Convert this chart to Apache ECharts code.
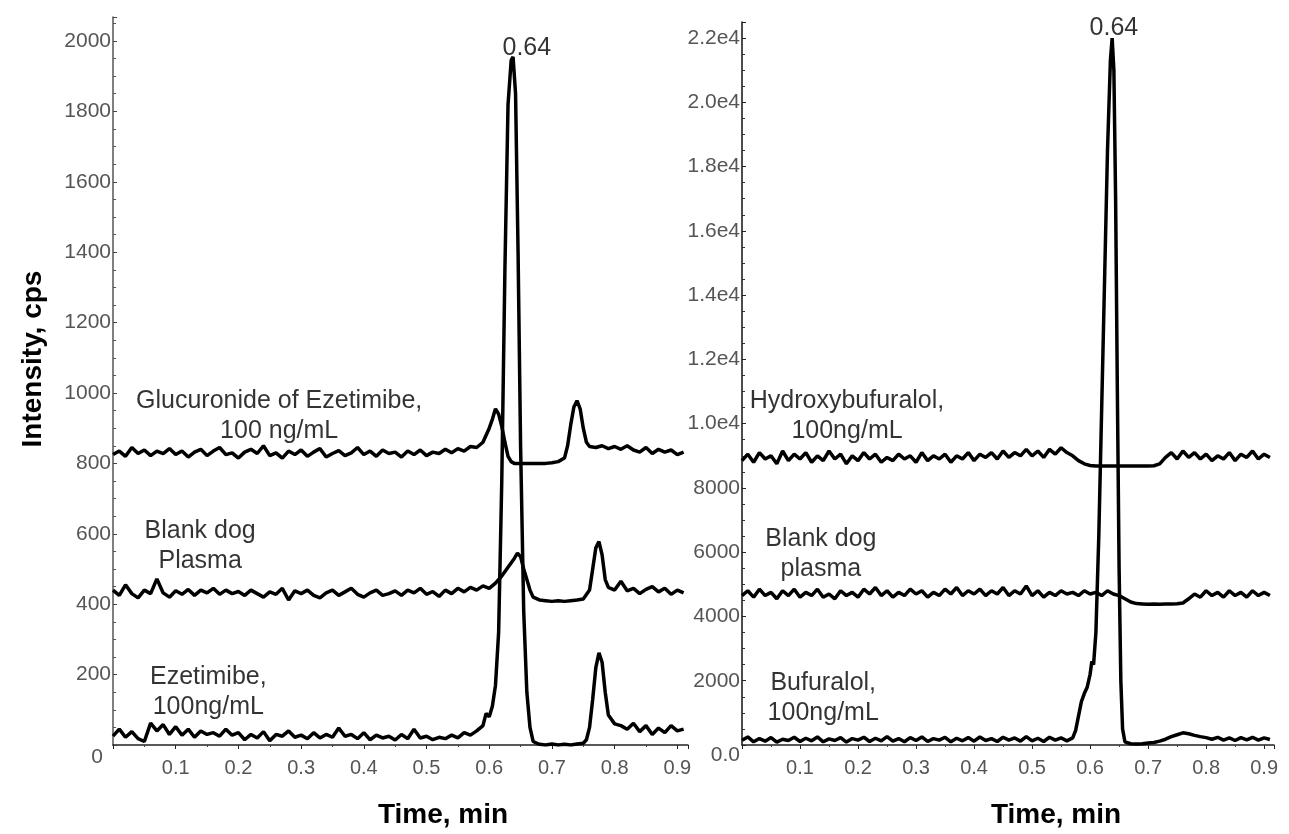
<!DOCTYPE html>
<html>
<head>
<meta charset="utf-8">
<title>Chromatograms</title>
<script src="https://cdn.jsdelivr.net/npm/echarts@6/dist/echarts.min.js"></script>
<style>
  html, body { margin: 0; padding: 0; background: #fff; }
  #chart { width: 1289px; height: 834px; }
</style>
</head>
<body>
<div id="chart"></div>
<script>
// left panel traces: [time (min), intensity (cps)]
var glucuronide = [
  [0.00,825],[0.01,835],[0.02,820],[0.03,845],[0.04,828],[0.05,838],[0.06,822],[0.07,835],[0.08,828],[0.09,842],
  [0.10,825],[0.11,835],[0.12,818],[0.13,832],[0.14,840],[0.15,822],[0.16,835],[0.17,845],[0.18,825],[0.19,830],
  [0.20,815],[0.21,832],[0.22,840],[0.23,828],[0.24,850],[0.25,822],[0.26,830],[0.27,815],[0.28,835],[0.29,825],
  [0.30,838],[0.31,820],[0.32,832],[0.33,842],[0.34,818],[0.35,828],[0.36,836],[0.37,822],[0.38,830],[0.39,845],
  [0.40,825],[0.41,835],[0.42,820],[0.43,838],[0.44,828],[0.45,832],[0.46,818],[0.47,835],[0.48,825],[0.49,838],
  [0.50,822],[0.51,832],[0.52,828],[0.53,840],[0.54,830],[0.55,842],[0.56,835],[0.57,848],[0.58,845],[0.59,860],
  [0.60,900],[0.605,925],[0.61,955],[0.615,940],[0.62,905],[0.625,860],[0.63,820],[0.635,805],[0.64,800],[0.65,800],
  [0.66,800],[0.67,800],[0.68,800],[0.69,800],[0.70,802],[0.71,805],[0.72,815],[0.725,850],[0.73,910],[0.735,960],
  [0.74,978],[0.745,955],[0.75,900],[0.755,860],[0.76,848],[0.77,845],[0.78,850],[0.79,842],[0.80,848],[0.81,840],
  [0.82,850],[0.83,838],[0.84,832],[0.85,845],[0.86,828],[0.87,840],[0.88,832],[0.89,838],[0.90,825],[0.91,832]
];
var blankLeft = [
  [0.00,440],[0.01,425],[0.02,455],[0.03,430],[0.04,418],[0.05,440],[0.06,430],[0.07,472],[0.08,432],[0.09,420],
  [0.10,438],[0.11,428],[0.12,442],[0.13,425],[0.14,440],[0.15,432],[0.16,445],[0.17,428],[0.18,440],[0.19,430],
  [0.20,436],[0.21,425],[0.22,440],[0.23,430],[0.24,420],[0.25,435],[0.26,428],[0.27,445],[0.28,412],[0.29,438],
  [0.30,430],[0.31,440],[0.32,425],[0.33,418],[0.34,432],[0.35,440],[0.36,425],[0.37,435],[0.38,445],[0.39,428],
  [0.40,420],[0.41,432],[0.42,440],[0.43,425],[0.44,430],[0.45,438],[0.46,425],[0.47,440],[0.48,432],[0.49,445],
  [0.50,428],[0.51,436],[0.52,422],[0.53,440],[0.54,430],[0.55,445],[0.56,435],[0.57,448],[0.58,440],[0.59,452],
  [0.60,445],[0.61,460],[0.62,480],[0.63,505],[0.64,530],[0.645,545],[0.65,535],[0.655,500],[0.66,470],[0.665,440],
  [0.67,420],[0.68,412],[0.69,410],[0.70,408],[0.71,410],[0.72,408],[0.73,410],[0.74,412],[0.75,415],[0.76,440],
  [0.765,500],[0.77,560],[0.775,578],[0.78,540],[0.785,470],[0.79,448],[0.80,440],[0.81,465],[0.82,438],[0.83,445],
  [0.84,430],[0.85,442],[0.86,450],[0.87,435],[0.88,445],[0.89,428],[0.90,440],[0.91,432]
];
var ezetimibe = [
  [0.00,25],[0.01,45],[0.02,22],[0.03,38],[0.04,18],[0.05,10],[0.06,62],[0.07,40],[0.08,58],[0.09,30],
  [0.10,52],[0.11,28],[0.12,45],[0.13,22],[0.14,40],[0.15,30],[0.16,35],[0.17,25],[0.18,45],[0.19,28],
  [0.20,35],[0.21,15],[0.22,30],[0.23,20],[0.24,38],[0.25,12],[0.26,30],[0.27,25],[0.28,40],[0.29,22],
  [0.30,28],[0.31,18],[0.32,35],[0.33,20],[0.34,30],[0.35,22],[0.36,48],[0.37,25],[0.38,30],[0.39,18],
  [0.40,35],[0.41,15],[0.42,28],[0.43,20],[0.44,25],[0.45,14],[0.46,30],[0.47,18],[0.48,45],[0.49,20],
  [0.50,25],[0.51,15],[0.52,22],[0.53,18],[0.54,28],[0.55,20],[0.56,35],[0.57,28],[0.58,40],[0.59,55],
  [0.595,90],[0.60,80],[0.605,110],[0.61,170],[0.615,320],[0.62,750],[0.625,1350],[0.63,1820],[0.635,1945],[0.638,1955],
  [0.642,1850],[0.646,1400],[0.65,850],[0.655,380],[0.66,150],[0.665,50],[0.67,10],[0.68,2],[0.69,0],[0.70,3],
  [0.71,0],[0.72,2],[0.73,0],[0.74,3],[0.75,5],[0.755,15],[0.76,50],[0.765,130],[0.77,220],[0.775,262],
  [0.78,235],[0.785,150],[0.79,85],[0.80,60],[0.81,55],[0.82,45],[0.83,62],[0.84,38],[0.85,55],[0.86,30],
  [0.87,48],[0.88,35],[0.89,55],[0.90,40],[0.91,45]
];

// right panel traces
var hydroxy = [
  [0.00,8850],[0.01,9050],[0.02,8800],[0.03,9100],[0.04,8900],[0.05,9000],[0.06,8750],[0.07,9150],[0.08,8850],[0.09,9050],
  [0.10,8900],[0.11,9100],[0.12,8800],[0.13,9000],[0.14,8850],[0.15,9150],[0.16,8900],[0.17,9050],[0.18,8750],[0.19,9000],
  [0.20,8850],[0.21,9100],[0.22,8900],[0.23,9050],[0.24,8800],[0.25,8950],[0.26,8850],[0.27,9050],[0.28,8900],[0.29,9000],
  [0.30,8800],[0.31,9100],[0.32,8850],[0.33,9000],[0.34,8900],[0.35,9050],[0.36,8800],[0.37,9000],[0.38,8900],[0.39,9100],
  [0.40,8850],[0.41,9050],[0.42,8950],[0.43,9100],[0.44,8900],[0.45,9150],[0.46,8950],[0.47,9100],[0.48,9000],[0.49,9200],
  [0.50,9000],[0.51,9150],[0.52,8950],[0.53,9200],[0.54,9050],[0.55,9250],[0.56,9100],[0.57,9000],[0.58,8850],[0.59,8750],
  [0.60,8700],[0.61,8680],[0.62,8680],[0.63,8680],[0.64,8680],[0.65,8680],[0.66,8680],[0.67,8680],[0.68,8680],[0.69,8680],
  [0.70,8680],[0.71,8690],[0.72,8750],[0.73,8950],[0.74,9100],[0.75,8900],[0.76,9150],[0.77,8950],[0.78,9100],[0.79,8900],
  [0.80,9050],[0.81,8850],[0.82,9000],[0.83,8900],[0.84,9100],[0.85,8850],[0.86,9050],[0.87,8950],[0.88,9150],[0.89,8900],
  [0.90,9050],[0.91,8950]
];
var blankRight = [
  [0.00,4650],[0.01,4800],[0.02,4600],[0.03,4850],[0.04,4650],[0.05,4750],[0.06,4550],[0.07,4800],[0.08,4650],[0.09,4850],
  [0.10,4600],[0.11,4750],[0.12,4650],[0.13,4850],[0.14,4600],[0.15,4700],[0.16,4550],[0.17,4800],[0.18,4650],[0.19,4750],
  [0.20,4600],[0.21,4850],[0.22,4700],[0.23,4900],[0.24,4650],[0.25,4800],[0.26,4600],[0.27,4750],[0.28,4650],[0.29,4850],
  [0.30,4700],[0.31,4800],[0.32,4600],[0.33,4750],[0.34,4650],[0.35,4850],[0.36,4700],[0.37,4900],[0.38,4650],[0.39,4800],
  [0.40,4700],[0.41,4850],[0.42,4650],[0.43,4800],[0.44,4700],[0.45,4900],[0.46,4650],[0.47,4800],[0.48,4700],[0.49,4950],
  [0.50,4650],[0.51,4800],[0.52,4600],[0.53,4750],[0.54,4650],[0.55,4800],[0.56,4700],[0.57,4750],[0.58,4650],[0.59,4800],
  [0.60,4700],[0.61,4750],[0.62,4650],[0.63,4800],[0.64,4700],[0.65,4650],[0.66,4550],[0.67,4450],[0.68,4400],[0.69,4390],
  [0.70,4380],[0.71,4385],[0.72,4380],[0.73,4390],[0.74,4385],[0.75,4395],[0.76,4420],[0.77,4550],[0.78,4700],[0.79,4600],
  [0.80,4800],[0.81,4650],[0.82,4750],[0.83,4600],[0.84,4800],[0.85,4650],[0.86,4750],[0.87,4600],[0.88,4800],[0.89,4650],
  [0.90,4750],[0.91,4650]
];
var bufuralol = [
  [0.00,150],[0.01,250],[0.02,100],[0.03,200],[0.04,120],[0.05,230],[0.06,90],[0.07,180],[0.08,140],[0.09,240],
  [0.10,110],[0.11,210],[0.12,130],[0.13,250],[0.14,100],[0.15,190],[0.16,140],[0.17,230],[0.18,90],[0.19,200],
  [0.20,150],[0.21,240],[0.22,110],[0.23,210],[0.24,130],[0.25,260],[0.26,120],[0.27,200],[0.28,100],[0.29,230],
  [0.30,140],[0.31,250],[0.32,110],[0.33,200],[0.34,150],[0.35,240],[0.36,100],[0.37,210],[0.38,130],[0.39,230],
  [0.40,120],[0.41,250],[0.42,140],[0.43,200],[0.44,110],[0.45,240],[0.46,150],[0.47,220],[0.48,120],[0.49,260],
  [0.50,130],[0.51,210],[0.52,110],[0.53,240],[0.54,150],[0.55,220],[0.56,130],[0.57,220],[0.575,450],[0.58,900],
  [0.585,1350],[0.59,1600],[0.595,1800],[0.60,2200],[0.603,2600],[0.606,2500],[0.61,3500],[0.615,6500],[0.62,10500],[0.625,14500],
  [0.63,18500],[0.635,21300],[0.638,22000],[0.641,21000],[0.644,17000],[0.647,11000],[0.65,5500],[0.653,2000],[0.656,500],[0.66,100],
  [0.67,40],[0.68,30],[0.69,40],[0.70,60],[0.71,80],[0.72,120],[0.73,180],[0.74,260],[0.75,320],[0.76,380],
  [0.77,350],[0.78,300],[0.79,260],[0.80,230],[0.81,180],[0.82,240],[0.83,150],[0.84,220],[0.85,140],[0.86,230],
  [0.87,160],[0.88,240],[0.89,150],[0.90,220],[0.91,170]
];

// text labels placed in data coordinates: [time, intensity, text]
var leftNotes = [
  [0.265, 935, 'Glucuronide of Ezetimibe,\n100 ng/mL'],
  [0.139, 566, 'Blank dog\nPlasma'],
  [0.152, 150, 'Ezetimibe,\n100ng/mL'],
  [0.660, 1980, '0.64']
];
var rightNotes = [
  [0.181, 10242, 'Hydroxybufuralol,\n100ng/mL'],
  [0.136, 5950, 'Blank dog\nplasma'],
  [0.140, 1456, 'Bufuralol,\n100ng/mL'],
  [0.641, 22311, '0.64']
];

var xTitle = 'Time, min';
var yTitle = 'Intensity, cps';

var chart = echarts.init(document.getElementById('chart'));

var labelFont = 'Liberation Sans, Arial, sans-serif';

function xAxisFor(grid, shift) {
  return {
    type: 'value', gridIndex: grid, min: 0, max: 0.917, interval: 0.1,
    name: xTitle, nameLocation: 'middle', nameGap: 56,
    nameTextStyle: { fontFamily: labelFont, fontSize: 28, fontWeight: 'bold', color: '#000', padding: [0, 0, 0, shift] },
    axisLine: { lineStyle: { color: '#222', width: 1.5 } },
    axisTick: { show: true, length: 4, lineStyle: { color: '#222' } },
    minorTick: { show: true, splitNumber: 2, length: 2, lineStyle: { color: '#444' } },
    splitLine: { show: false },
    axisLabel: {
      fontFamily: labelFont, fontSize: 20, color: '#555', margin: 13, showMaxLabel: false,
      formatter: function (v) { return (v === 0 || v > 0.91) ? '' : v.toFixed(1); }
    }
  };
}

var notesSeries = function (notes, idx) {
  return {
    type: 'scatter', xAxisIndex: idx, yAxisIndex: idx, symbolSize: 0, silent: true,
    data: notes.map(function (n) { return { value: [n[0], n[1]], name: n[2] }; }),
    label: {
      show: true, position: 'inside', formatter: '{b}', align: 'center',
      fontFamily: labelFont, fontSize: 25, lineHeight: 30, color: '#000'
    }
  };
};

var traceStyle = { color: '#000', width: 3.5 };

var option = {
  animation: false,
  backgroundColor: '#fff',
  grid: [
    { left: 113, top: 17, width: 575, height: 731 },
    { left: 742, top: 22, width: 532, height: 726 }
  ],
  xAxis: [xAxisFor(0, 85), xAxisFor(1, 96)],
  yAxis: [
    {
      type: 'value', gridIndex: 0, min: 0, max: 2068, interval: 200,
      name: yTitle, nameLocation: 'middle', nameGap: 66,
      nameTextStyle: { fontFamily: labelFont, fontSize: 28, fontWeight: 'bold', color: '#000', padding: [0, 0, 0, 44] },
      axisLine: { show: true, lineStyle: { color: '#555', width: 1.5 } },
      axisTick: { show: true, inside: true, length: 4, lineStyle: { color: '#444' } },
      minorTick: { show: true, splitNumber: 4, length: 3, lineStyle: { color: '#555' } },
      splitLine: { show: false },
      axisLabel: {
        fontFamily: labelFont, fontSize: 21, color: '#555', margin: 2, showMaxLabel: false,
        formatter: function (v) { if (v === 0) return '{z|0}'; return v > 2000 ? '' : String(v); },
        rich: { z: { fontFamily: labelFont, fontSize: 21, color: '#555', padding: [24, 8, 0, 0] } }
      }
    },
    {
      type: 'value', gridIndex: 1, min: 0, max: 22500, interval: 2000,
      axisLine: { show: true, lineStyle: { color: '#111', width: 1.5 } },
      axisTick: { show: true, inside: true, length: 4, lineStyle: { color: '#222' } },
      minorTick: { show: true, splitNumber: 4, length: 3, lineStyle: { color: '#333' } },
      splitLine: { show: false },
      axisLabel: {
        fontFamily: labelFont, fontSize: 21, color: '#555', margin: 2, showMaxLabel: false,
        formatter: function (v) {
          if (v === 0) return '{z|0.0}';
          if (v > 22000) return '';
          return v < 10000 ? String(v) : (v / 10000).toFixed(1) + 'e4';
        },
        rich: { z: { fontFamily: labelFont, fontSize: 21, color: '#555', padding: [20, 0, 0, 0] } }
      }
    }
  ],
  series: [
    { type: 'line', xAxisIndex: 0, yAxisIndex: 0, data: glucuronide, showSymbol: false, lineStyle: traceStyle },
    { type: 'line', xAxisIndex: 0, yAxisIndex: 0, data: blankLeft, showSymbol: false, lineStyle: traceStyle },
    { type: 'line', xAxisIndex: 0, yAxisIndex: 0, data: ezetimibe, showSymbol: false, lineStyle: traceStyle },
    { type: 'line', xAxisIndex: 1, yAxisIndex: 1, data: hydroxy, showSymbol: false, lineStyle: traceStyle },
    { type: 'line', xAxisIndex: 1, yAxisIndex: 1, data: blankRight, showSymbol: false, lineStyle: traceStyle },
    { type: 'line', xAxisIndex: 1, yAxisIndex: 1, data: bufuralol, showSymbol: false, lineStyle: traceStyle },
    notesSeries(leftNotes, 0),
    notesSeries(rightNotes, 1)
  ]
};

chart.setOption(option);
</script>
</body>
</html>
